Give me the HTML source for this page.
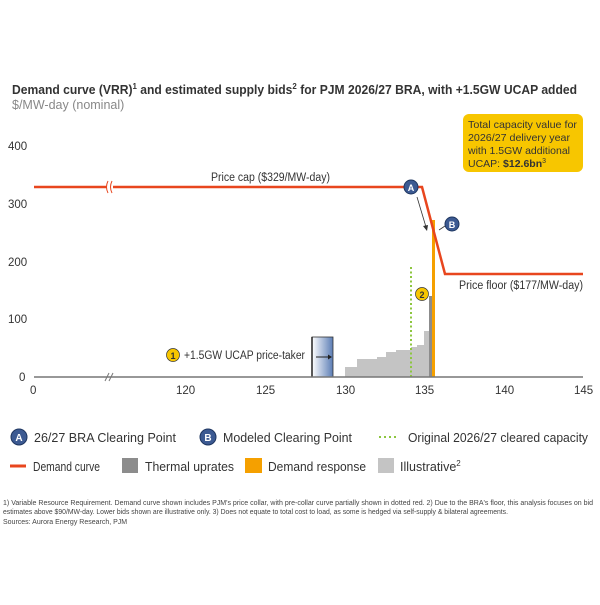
<!DOCTYPE html>
<html><head><meta charset="utf-8"><style>
body{margin:0;background:#fff;font-family:"Liberation Sans",sans-serif;}
</style></head><body>
<svg width="600" height="600" viewBox="0 0 600 600" xmlns="http://www.w3.org/2000/svg" font-family="Liberation Sans, sans-serif">
<defs><linearGradient id="g" x1="0" x2="1"><stop offset="0" stop-color="#fff"/><stop offset="1" stop-color="#5b7db5"/></linearGradient></defs>
<text x="12" y="94" font-size="13" font-weight="bold" fill="#333" textLength="565" lengthAdjust="spacingAndGlyphs">Demand curve (VRR)<tspan font-size="8.5" dy="-5">1</tspan><tspan dy="5"> and estimated supply bids</tspan><tspan font-size="8.5" dy="-5">2</tspan><tspan dy="5"> for PJM 2026/27 BRA, with +1.5GW UCAP added</tspan></text>
<text x="12" y="109" font-size="12.5" fill="#888">$/MW-day (nominal)</text>
<g font-size="11.5" fill="#333">
<text x="8" y="150">400</text><text x="8" y="208">300</text><text x="8" y="266">200</text><text x="8" y="323">100</text><text x="19" y="381">0</text>
<text x="30" y="394">0</text><text x="176" y="394">120</text><text x="256" y="394">125</text><text x="336" y="394">130</text><text x="415" y="394">135</text><text x="495" y="394">140</text><text x="574" y="394">145</text>
</g>
<g fill="#c4c4c4">
<rect x="345" y="367" width="12" height="10"/><rect x="357" y="359" width="20" height="18"/><rect x="377" y="357" width="9" height="20"/><rect x="386" y="352" width="10" height="25"/><rect x="396" y="350" width="15" height="27"/><rect x="411" y="347" width="6" height="30"/><rect x="417" y="345" width="7" height="32"/><rect x="424" y="331" width="5" height="46"/>
</g>
<rect x="429" y="296" width="4" height="81" fill="#8c8c8c"/>
<rect x="432" y="220" width="3" height="157" fill="#f5a000"/>
<line x1="411" y1="267" x2="411" y2="377" stroke="#8dc63f" stroke-width="2" stroke-dasharray="2,2.5"/>
<rect x="312" y="337" width="21" height="40" fill="url(#g)" stroke="#333" stroke-width="0.8"/>
<line x1="312" y1="337" x2="312" y2="377" stroke="#222" stroke-width="1.5"/>
<line x1="316" y1="357" x2="328" y2="357" stroke="#222"/><polygon points="328,354.5 332,357 328,359.5" fill="#222"/>
<line x1="34" y1="377" x2="583" y2="377" stroke="#777" stroke-width="1.5"/>
<path d="M105,381 L109,373 M109,381 L113,373" stroke="#777" stroke-width="1"/>
<polyline points="34,187 422,187 445,274 583,274" fill="none" stroke="#e8461e" stroke-width="2.5"/>
<rect x="107" y="183" width="6" height="8" fill="#fff"/>
<path d="M108,181 q-3,6 0,12 M112,181 q-3,6 0,12" stroke="#e8461e" fill="none" stroke-width="1" />
<text x="211" y="181" font-size="11.5" fill="#333" textLength="119" lengthAdjust="spacingAndGlyphs">Price cap ($329/MW-day)</text>
<text x="459" y="289" font-size="11.5" fill="#333" textLength="124" lengthAdjust="spacingAndGlyphs">Price floor ($177/MW-day)</text>
<line x1="417" y1="197" x2="426" y2="227" stroke="#333" stroke-width="0.8"/><polygon points="423,226 427,231 428,225" fill="#333"/>
<line x1="439" y1="230" x2="445" y2="226" stroke="#333" stroke-width="0.8"/>
<circle cx="411" cy="187" r="7" fill="#3c5a92" stroke="#1e3660"/><text x="411" y="191" font-size="9" font-weight="bold" fill="#fff" text-anchor="middle">A</text>
<circle cx="452" cy="224" r="7" fill="#3c5a92" stroke="#1e3660"/><text x="452" y="228" font-size="9" font-weight="bold" fill="#fff" text-anchor="middle">B</text>
<circle cx="422" cy="294" r="6.5" fill="#f7c600" stroke="#333" stroke-width="0.7"/><text x="422" y="298" font-size="9" font-weight="bold" fill="#333" text-anchor="middle">2</text>
<circle cx="173" cy="355" r="6.5" fill="#f7c600" stroke="#333" stroke-width="0.7"/><text x="173" y="359" font-size="9" font-weight="bold" fill="#333" text-anchor="middle">1</text>
<text x="184" y="359" font-size="11.5" fill="#333" textLength="121" lengthAdjust="spacingAndGlyphs">+1.5GW UCAP price-taker</text>
<rect x="463" y="114" width="120" height="58" rx="6" fill="#f7c600"/>
<g font-size="10.5" fill="#333"><text x="468" y="128" textLength="109" lengthAdjust="spacingAndGlyphs">Total capacity value for</text><text x="468" y="141" textLength="102" lengthAdjust="spacingAndGlyphs">2026/27 delivery year</text><text x="468" y="154" textLength="102" lengthAdjust="spacingAndGlyphs">with 1.5GW additional</text><text x="468" y="167">UCAP: <tspan font-weight="bold">$12.6bn</tspan><tspan font-size="7" dy="-4">3</tspan></text></g>
<g font-size="12.5" fill="#333">
<circle cx="19" cy="437" r="8" fill="#3c5a92" stroke="#1e3660"/><text x="19" y="441" font-size="10" font-weight="bold" fill="#fff" text-anchor="middle">A</text>
<text x="34" y="442" textLength="142" lengthAdjust="spacingAndGlyphs">26/27 BRA Clearing Point</text>
<circle cx="208" cy="437" r="8" fill="#3c5a92" stroke="#1e3660"/><text x="208" y="441" font-size="10" font-weight="bold" fill="#fff" text-anchor="middle">B</text>
<text x="223" y="442" textLength="129" lengthAdjust="spacingAndGlyphs">Modeled Clearing Point</text>
<line x1="379" y1="437" x2="396" y2="437" stroke="#8dc63f" stroke-width="2" stroke-dasharray="2,3"/>
<text x="408" y="442" textLength="180" lengthAdjust="spacingAndGlyphs">Original 2026/27 cleared capacity</text>
<line x1="10" y1="466" x2="26" y2="466" stroke="#e8461e" stroke-width="3"/>
<text x="33" y="471" textLength="67" lengthAdjust="spacingAndGlyphs">Demand curve</text>
<rect x="122" y="458" width="16" height="15" fill="#8c8c8c"/><text x="145" y="471" textLength="89" lengthAdjust="spacingAndGlyphs">Thermal uprates</text>
<rect x="245" y="458" width="17" height="15" fill="#f5a000"/><text x="268" y="471" textLength="98" lengthAdjust="spacingAndGlyphs">Demand response</text>
<rect x="378" y="458" width="16" height="15" fill="#c4c4c4"/><text x="400" y="471">Illustrative<tspan font-size="8" dy="-5">2</tspan></text>
</g>
<g font-size="7" fill="#444">
<text x="3" y="505" textLength="590" lengthAdjust="spacingAndGlyphs">1) Variable Resource Requirement. Demand curve shown includes PJM's price collar, with pre-collar curve partially shown in dotted red. 2) Due to the BRA's floor, this analysis focuses on bid</text>
<text x="3" y="514" textLength="505" lengthAdjust="spacingAndGlyphs">estimates above $90/MW-day. Lower bids shown are illustrative only. 3) Does not equate to total cost to load, as some is hedged via self-supply &amp; bilateral agreements.</text>
<text x="3" y="524">Sources: Aurora Energy Research, PJM</text>
</g>
</svg>
</body></html>
